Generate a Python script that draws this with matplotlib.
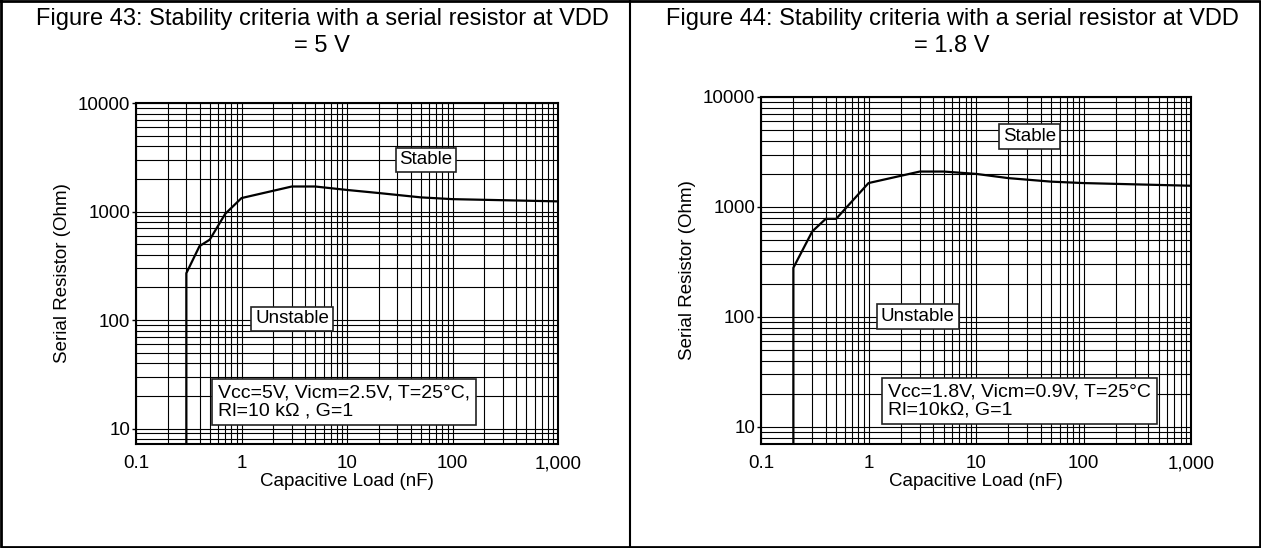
import matplotlib
matplotlib.use("Agg")
import matplotlib.pyplot as plt
from matplotlib.lines import Line2D
from matplotlib.ticker import FixedLocator, NullFormatter, LogLocator

plt.rcParams['font.family'] = ['Liberation Sans', 'DejaVu Sans']

# Figure 43 : VDD = 5 V
cap_43 = [0.3, 0.3, 0.4, 0.5, 0.7, 1, 3, 5, 10, 20, 50, 100, 1000]
res_43 = [5, 270, 480, 550, 950, 1330, 1700, 1700, 1580, 1480, 1350, 1300, 1240]

# Figure 44 : VDD = 1.8 V
cap_44 = [0.2, 0.2, 0.3, 0.4, 0.5, 1, 3, 5, 10, 20, 50, 100, 1000]
res_44 = [5, 280, 600, 780, 780, 1650, 2100, 2100, 2000, 1830, 1700, 1650, 1560]

x_ticks = [0.1, 1, 10, 100, 1000]
x_labels = ['0.1', '1', '10', '100', '1,000']
y_ticks = [10, 100, 1000, 10000]
y_labels = ['10', '100', '1000', '10000']

titles = ['Figure 43: Stability criteria with a serial resistor at VDD\n= 5 V',
          'Figure 44: Stability criteria with a serial resistor at VDD\n= 1.8 V']
conditions = ['Vcc=5V, Vicm=2.5V, T=25\u00b0C,\nRl=10 k\u03a9 , G=1',
              'Vcc=1.8V, Vicm=0.9V, T=25\u00b0C\nRl=10k\u03a9, G=1']

W, H = 1261, 548
fig = plt.figure(figsize=(W / 100, H / 100), dpi=100)

# axes boxes in pixels: left, right, top, bottom
boxes = [(136, 558, 103, 444), (761, 1191, 97, 444)]
ylims = [(7.2, 10000), (7.0, 10000)]
series = [(cap_43, res_43), (cap_44, res_44)]
# annotation spots (axes fraction)
stable_pos = [(0.687, 0.833), (0.624, 0.886)]
unstable_pos = [(0.282, 0.367), (0.279, 0.368)]
cond_pos = [(0.195, 0.123), (0.295, 0.124)]
title_x = [322, 952]

box = dict(boxstyle='square,pad=0.2', facecolor='white', edgecolor='#222222', linewidth=1.2)

for i in range(2):
    l, r, t, b = boxes[i]
    ax = fig.add_axes([l / W, 1 - b / H, (r - l) / W, (b - t) / H])
    ax.set_xscale('log')
    ax.set_yscale('log')
    ax.set_xlim(0.1, 1000)
    ax.set_ylim(*ylims[i])
    ax.plot(series[i][0], series[i][1], color='black', lw=1.6, zorder=3)

    ax.xaxis.set_major_locator(FixedLocator(x_ticks))
    ax.set_xticklabels(x_labels)
    ax.yaxis.set_major_locator(FixedLocator(y_ticks))
    ax.set_yticklabels(y_labels)
    ax.xaxis.set_minor_locator(LogLocator(base=10, subs=range(2, 10), numticks=20))
    ax.yaxis.set_minor_locator(LogLocator(base=10, subs=range(2, 10), numticks=20))
    ax.xaxis.set_minor_formatter(NullFormatter())
    ax.yaxis.set_minor_formatter(NullFormatter())
    ax.grid(True, which='both', color='black', lw=0.8)
    ax.tick_params(which='major', direction='out', length=3, width=1, labelsize=13.5, pad=1)
    ax.tick_params(axis='x', which='major', length=0, pad=8)
    ax.tick_params(which='minor', length=0)
    for s in ax.spines.values():
        s.set_linewidth(1.5)

    ax.set_xlabel('Capacitive Load (nF)', fontsize=13.5, labelpad=1)
    ax.set_ylabel('Serial Resistor (Ohm)', fontsize=13.5, labelpad=5)

    ax.text(*stable_pos[i], 'Stable', transform=ax.transAxes, fontsize=13.5,
            ha='center', va='center', bbox=box, zorder=5)
    ax.text(*unstable_pos[i], 'Unstable', transform=ax.transAxes, fontsize=13.5,
            ha='left', va='center', bbox=box, zorder=5)
    ax.text(*cond_pos[i], conditions[i], transform=ax.transAxes, fontsize=14,
            ha='left', va='center', linespacing=1.05,
            bbox=dict(boxstyle='square,pad=0.3', facecolor='white', edgecolor='#222222', linewidth=1.2),
            zorder=5)

    fig.text(title_x[i] / W, 1 - 8 / H, titles[i], fontsize=17, ha='center', va='top',
             linespacing=1.3)

# outer frame and divider
fig.add_artist(Line2D([1 / W, 1 - 1 / W, 1 - 1 / W, 1 / W, 1 / W],
                      [1 - 1 / H, 1 - 1 / H, 1 / H, 1 / H, 1 - 1 / H],
                      transform=fig.transFigure, color='black', lw=2))
fig.add_artist(Line2D([630 / W, 630 / W], [0, 1], transform=fig.transFigure, color='black', lw=1.5))

fig.savefig('out.png', dpi=100)
